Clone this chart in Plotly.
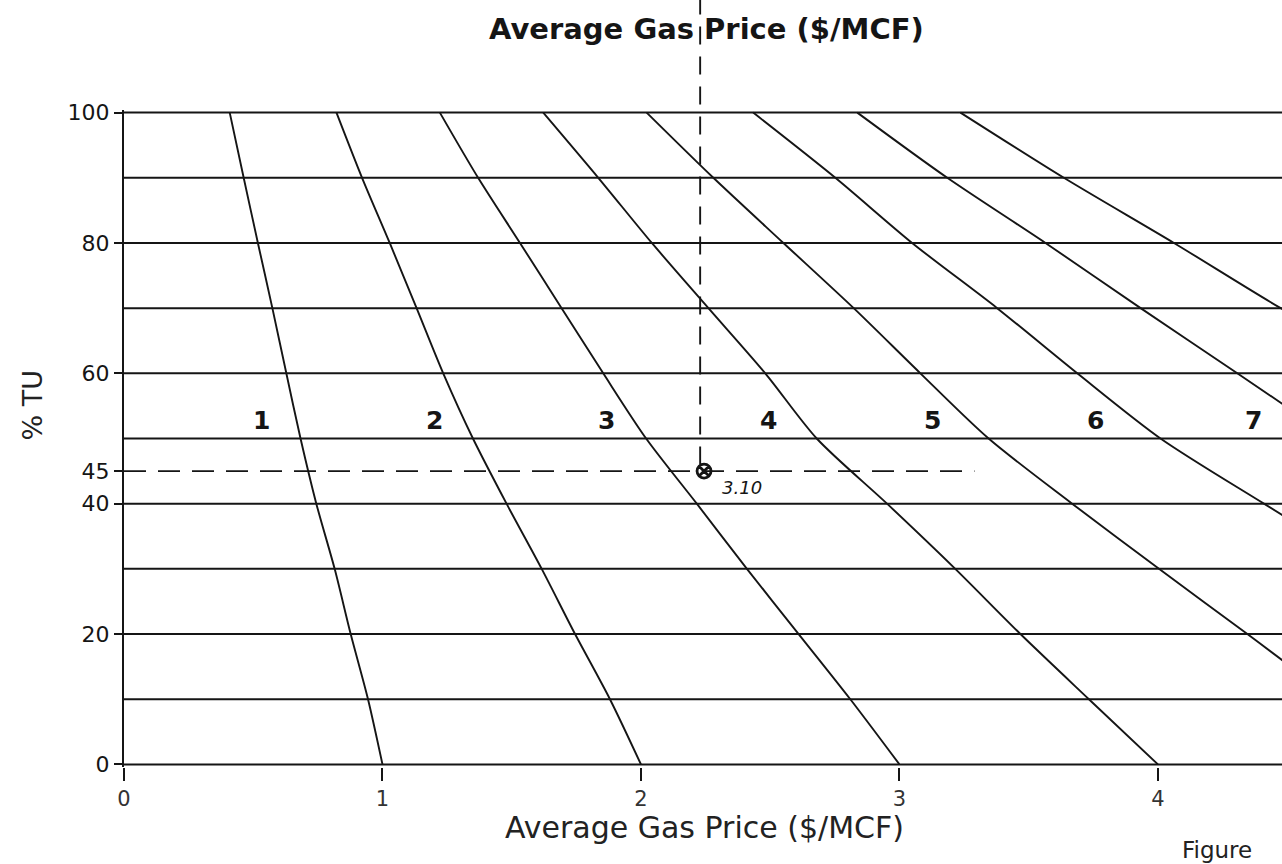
import plotly.graph_objects as go

# ---------------- data ----------------
tu_levels = [100, 90, 80, 70, 60, 50, 40, 30, 20, 10, 0]          # % TU
line1_price = [0.409, 0.463, 0.518, 0.574, 0.628, 0.683, 0.744, 0.815, 0.877, 0.944, 1.0]
line2_price = [0.822, 0.921, 1.028, 1.132, 1.235, 1.350, 1.480, 1.616, 1.745, 1.880, 2.0]
line3_price = [1.222, 1.370, 1.532, 1.693, 1.854, 2.020, 2.216, 2.410, 2.610, 2.810, 3.0]
line4_price = [1.622, 1.835, 2.042, 2.261, 2.481, 2.680, 2.952, 3.216, 3.468, 3.733, 4.0]
line5_price = [2.022, 2.280, 2.551, 2.823, 3.081, 3.345, 3.668, 4.004, 4.346, 4.680, 5.0]
line6_price = [2.434, 2.752, 3.049, 3.378, 3.688, 4.010, 4.410, 4.820]
line7_price = [2.837, 3.185, 3.565, 3.933, 4.307, 4.680]
line8_price = [3.236, 3.636, 4.062, 4.475, 4.930]
price_lines = [line1_price, line2_price, line3_price, line4_price,
               line5_price, line6_price, line7_price, line8_price]

tu_grid = [0, 10, 20, 30, 40, 50, 60, 70, 80, 90, 100]
y_tick_vals = [0, 20, 40, 45, 60, 80, 100]
x_tick_vals = [0, 1, 2, 3, 4]

top_label_text = ["1", "2", "3", "4", "5", "6", "7", "8"]
top_label_x = [0.397, 0.814, 1.213, 1.636, 2.035, 2.425, 2.845, 3.209]
top_label_y = 103.3
mid_label_text = ["1", "2", "3", "4", "5", "6", "7"]
mid_label_x = [0.531, 1.203, 1.868, 2.493, 3.126, 3.759, 4.370]
mid_label_y = 52.7

point_price = 2.244
point_tu = 45
point_text = "3.10"
point_text_pos = (2.391, 42.45)
dash_h_end = 3.29
dash_v_x = 2.229

# ---------------- layout geometry ----------------
W, H = 1282, 864
ML, MR, MT, MB = 124, 0, 110, 97
XR = [0, 4.48]
YR = [-0.4, 100.4]
PH = H - MT - MB
PW = W - ML - MR


def px_to_paper_x(px):
    return (px - ML) / PW


def px_to_paper_y(py):
    return (H - MB - py) / PH


def data_to_paper_y(v):
    return (v - YR[0]) / (YR[1] - YR[0])


def data_to_paper_x(v):
    return (v - XR[0]) / (XR[1] - XR[0])


INK = "#151515"
FONT = "DejaVu Sans"

fig = go.Figure()

for xs in price_lines:
    fig.add_trace(go.Scatter(
        x=xs, y=tu_levels[:len(xs)], mode="lines",
        line=dict(color=INK, width=1.9, shape="spline", smoothing=0.8),
        hoverinfo="skip", showlegend=False))

fig.add_trace(go.Scatter(
    x=[point_price], y=[point_tu], mode="markers",
    marker=dict(symbol="circle-x-open", size=14, color=INK, line=dict(width=2.8, color=INK)),
    hoverinfo="skip", showlegend=False, cliponaxis=False))

shapes = []
for t in tu_grid:
    shapes.append(dict(type="line", xref="x", yref="y", x0=0, x1=XR[1] + 0.2, y0=t, y1=t,
                       line=dict(color=INK, width=2), layer="below"))
# dashed reading lines
shapes.append(dict(type="line", xref="x", yref="y", x0=0, x1=dash_h_end, y0=point_tu, y1=point_tu,
                   line=dict(color=INK, width=1.7, dash="22px,12px")))
shapes.append(dict(type="line", xref="paper", yref="paper",
                   x0=data_to_paper_x(dash_v_x), x1=data_to_paper_x(dash_v_x),
                   y0=data_to_paper_y(point_tu + 1), y1=px_to_paper_y(0),
                   line=dict(color=INK, width=1.9, dash="18px,12px")))

annotations = []
for t, xv in zip(top_label_text, top_label_x):
    annotations.append(dict(x=xv, y=top_label_y, xref="x", yref="y", text=t, showarrow=False,
                            font=dict(family=FONT, size=24, color=INK, weight="bold")))
for t, xv in zip(mid_label_text, mid_label_x):
    annotations.append(dict(x=xv, y=mid_label_y, xref="x", yref="y", text=t, showarrow=False,
                            font=dict(family=FONT, size=25, color=INK, weight="bold")))
annotations.append(dict(x=point_text_pos[0], y=point_text_pos[1], xref="x", yref="y",
                        text=point_text, showarrow=False,
                        font=dict(family=FONT, size=18, color=INK, style="italic")))
annotations.append(dict(x=px_to_paper_x(706), y=px_to_paper_y(29), xref="paper", yref="paper",
                        text="Average Gas Price ($/MCF)", showarrow=False, yanchor="middle",
                        font=dict(family=FONT, size=29, color=INK, weight="bold")))
annotations.append(dict(x=px_to_paper_x(704), y=px_to_paper_y(827), xref="paper", yref="paper",
                        text="Average Gas Price ($/MCF)", showarrow=False, yanchor="middle",
                        font=dict(family=FONT, size=30, color="#222222")))
annotations.append(dict(x=px_to_paper_x(1180), y=px_to_paper_y(850), xref="paper", yref="paper",
                        text="Figure", showarrow=False, xanchor="left", yanchor="middle",
                        font=dict(family=FONT, size=23, color="#222222")))
annotations.append(dict(x=px_to_paper_x(14), y=px_to_paper_y(405), xref="paper", yref="paper",
                        text="% TU", showarrow=False, textangle=-90,
                        font=dict(family=FONT, size=27, color="#222222")))

fig.update_layout(
    width=W, height=H,
    margin=dict(l=ML, r=MR, t=MT, b=MB),
    paper_bgcolor="white", plot_bgcolor="white",
    shapes=shapes, annotations=annotations,
    showlegend=False,
    xaxis=dict(range=XR, showgrid=False, zeroline=False, showline=False,
               tickmode="array", tickvals=x_tick_vals, ticktext=[str(v) for v in x_tick_vals],
               ticks="outside", ticklen=13, tickwidth=1.6, tickcolor=INK,
               tickfont=dict(family=FONT, size=21, color="#333333")),
    yaxis=dict(range=YR, showgrid=False, zeroline=False, showline=True, linecolor=INK, linewidth=2,
               tickmode="array", tickvals=y_tick_vals, ticktext=[str(v) for v in y_tick_vals],
               ticks="outside", ticklen=8, tickwidth=1.6, tickcolor=INK,
               tickfont=dict(family=FONT, size=22, color=INK)),
)

fig.write_html("out.html", config={"displayModeBar": False},
               post_script="document.body.style.margin='0px';")
